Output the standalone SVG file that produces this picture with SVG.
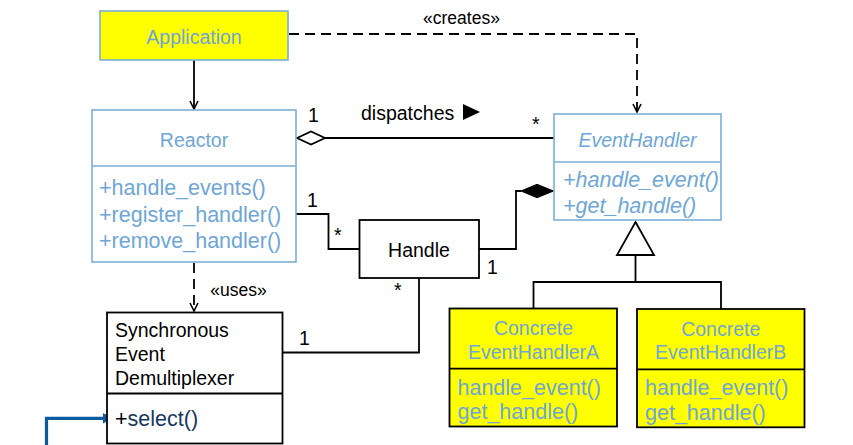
<svg xmlns="http://www.w3.org/2000/svg" width="853" height="445" viewBox="0 0 853 445">
<defs>
<style>
text{font-family:"Liberation Sans",Arial,sans-serif;}
.t{font-size:19.5px;fill:#6ea6d7;text-anchor:middle;}
.m{font-size:21.5px;fill:#6ea6d7;}
.k{font-size:19.5px;fill:#000;}
.lbl{font-size:17.5px;fill:#000;}
.it{font-style:italic;}
.bb{fill:#fff;stroke:#7aafd9;stroke-width:1.6;}
.yb{fill:#ffff00;stroke:#7aafd9;stroke-width:1.6;}
.yk{fill:#ffff00;stroke:#000;stroke-width:1.8;}
.wk{fill:#fff;stroke:#000;stroke-width:1.8;}
.ln{fill:none;stroke:#000;stroke-width:1.8;}
.ds{fill:none;stroke:#000;stroke-width:1.8;stroke-dasharray:10 6;}
</style>
<marker id="open" markerWidth="12" markerHeight="12" refX="9" refY="5" orient="auto" markerUnits="userSpaceOnUse">
<path d="M1,1 L9,5 L1,9" fill="none" stroke="#000" stroke-width="1.6"/>
</marker>
</defs>

<g id="connectors">
<line class="ln" x1="194" y1="60" x2="194" y2="109" marker-end="url(#open)"/>
<path class="ds" d="M289,34 H637 V112" marker-end="url(#open)"/>
<text class="lbl" x="461.5" y="24" text-anchor="middle">«creates»</text>
<path class="ds" d="M194,263 V311" marker-end="url(#open)"/>
<text class="lbl" x="238.5" y="296" text-anchor="middle">«uses»</text>
<!-- aggregation -->
<polygon points="297,138 311,131.5 325,138 311,144.5" fill="#fff" stroke="#000" stroke-width="1.8"/>
<line class="ln" x1="325" y1="138" x2="554" y2="138"/>
<text class="k" x="308" y="122">1</text>
<text class="k" x="361" y="119.5">dispatches</text>
<polygon points="463,104 480,112 463,120" fill="#000"/>
<text class="k" x="532" y="131" font-size="20">*</text>
<!-- Reactor-Handle -->
<path class="ln" d="M296,214 H328.5 V249 H359"/>
<text class="k" x="307" y="207">1</text>
<text class="k" x="334" y="242">*</text>
<!-- Handle-EventHandler composition -->
<path class="ln" d="M479,249 H516 V191 H521"/>
<polygon points="521,191 537,184.3 553.5,191 537,197.7" fill="#000" stroke="#000" stroke-width="1"/>
<text class="k" x="487" y="274">1</text>
<!-- Handle-SED -->
<path class="ln" d="M419,278 V352.5 H282"/>
<text class="k" x="394" y="297">*</text>
<text class="k" x="299" y="345">1</text>
<!-- inheritance -->
<polygon points="635.5,222 654,255 617,255" fill="#fff" stroke="#000" stroke-width="1.8"/>
<path class="ln" d="M635.5,255 V282 M533.5,308 V282 H721 V309"/>
<!-- blue arrow -->
<path d="M46.5,446 V418.3 H104" fill="none" stroke="#0e5a9e" stroke-width="3.2"/>
<polygon points="103,413 113,418.3 103,423.6" fill="#0e5a9e"/>
</g>

<g id="Application">
<rect class="yb" x="100" y="11" width="188" height="49"/>
<text class="t" x="194" y="43.5">Application</text>
</g>

<g id="Reactor">
<rect class="bb" x="92" y="110" width="204" height="152"/>
<line x1="92" y1="166" x2="296" y2="166" stroke="#7aafd9" stroke-width="1.6"/>
<text class="t" x="194" y="146.5">Reactor</text>
<text class="m" x="99" y="195">+handle_events()</text>
<text class="m" x="99" y="221.5">+register_handler()</text>
<text class="m" x="99" y="248">+remove_handler()</text>
</g>

<g id="EventHandler">
<rect class="bb" x="554" y="114" width="167" height="106"/>
<line x1="554" y1="162" x2="721" y2="162" stroke="#7aafd9" stroke-width="1.6"/>
<text class="t it" x="637.5" y="146.5">EventHandler</text>
<text class="m it" x="563" y="186.5">+handle_event()</text>
<text class="m it" x="563" y="212.5">+get_handle()</text>
</g>

<g id="Handle">
<rect class="wk" x="359.5" y="220" width="119.5" height="58"/>
<text class="k" x="419" y="256.5" text-anchor="middle">Handle</text>
</g>

<g id="SynchronousEventDemultiplexer">
<rect class="wk" x="107" y="312.5" width="175.5" height="131"/>
<line x1="107" y1="393.5" x2="282.5" y2="393.5" stroke="#000" stroke-width="1.8"/>
<text class="k" x="115" y="337">Synchronous</text>
<text class="k" x="115" y="361">Event</text>
<text class="k" x="115" y="384.5">Demultiplexer</text>
<text x="115" y="426" style="font-size:21.5px;fill:#000">+<tspan style="fill:#17375e">select()</tspan></text>
</g>

<g id="ConcreteEventHandlerA">
<rect class="yk" x="449.5" y="308.5" width="167.5" height="118"/>
<line x1="449.5" y1="368.7" x2="617" y2="368.7" stroke="#000" stroke-width="1.8"/>
<text class="t" x="533.5" y="335">Concrete</text>
<text class="t" x="533.5" y="358.5">EventHandlerA</text>
<text class="m" x="457.5" y="394.5">handle_event()</text>
<text class="m" x="457.5" y="418.5">get_handle()</text>
</g>

<g id="ConcreteEventHandlerB">
<rect class="yk" x="637" y="309" width="167.5" height="118.3"/>
<line x1="637" y1="369.3" x2="804.5" y2="369.3" stroke="#000" stroke-width="1.8"/>
<text class="t" x="720.7" y="335.5">Concrete</text>
<text class="t" x="720.7" y="359">EventHandlerB</text>
<text class="m" x="645" y="395">handle_event()</text>
<text class="m" x="645" y="419.5">get_handle()</text>
</g>
</svg>
